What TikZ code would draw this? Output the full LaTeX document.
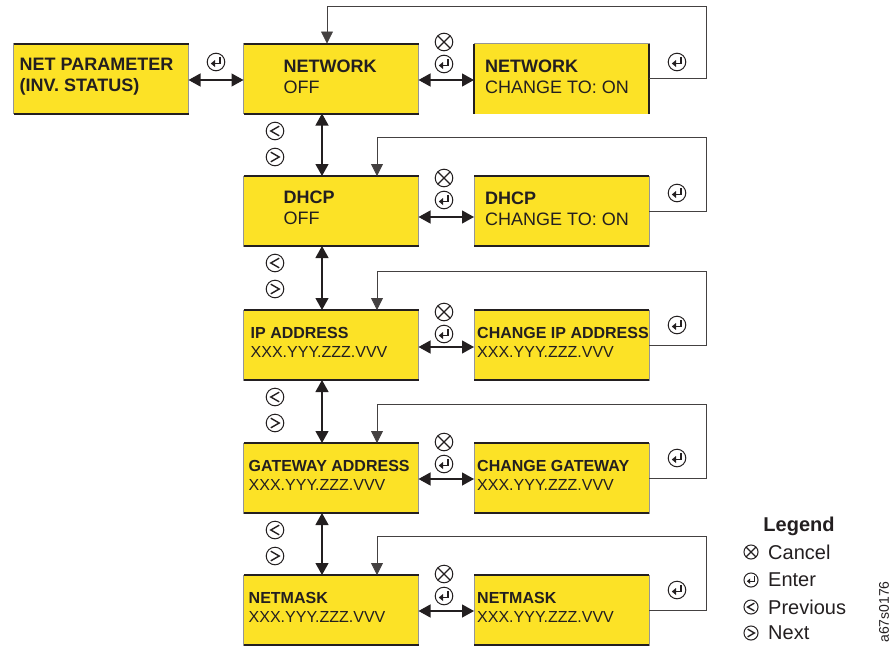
\documentclass[tikz,border=0pt]{standalone}
\usepackage{fontspec}
\setmainfont{Liberation Sans}
\usepackage{tikz}
\usetikzlibrary{calc, positioning, arrows.meta}
\definecolor{panelY}{RGB}{252, 226, 38}
\definecolor{ink}{RGB}{35, 31, 32}
\definecolor{edge}{RGB}{150, 150, 150}

\tikzset{
  cancelkey/.pic={
    \draw[ink, line width=1pt] (0,0) circle (8.8pt);
    \draw[ink, line width=1.1pt] (-6.2,-6.2) -- (6.2,6.2) (-6.2,6.2) -- (6.2,-6.2);
  },
  enterkey/.pic={
    \draw[ink, line width=1pt] (0,0) circle (8.8pt);
    \draw[ink, line width=1.4pt] (4,-5) -- (4,1.5) -- (-1,1.5);
    \fill[ink] (-5.2,1.5) -- (-1,-2) -- (-1,5) -- cycle;
  },
  prevkey/.pic={
    \draw[ink, line width=1pt] (0,0) circle (8.8pt);
    \draw[ink, line width=1.4pt] (4.2,-4.8) -- (-4.2,0) -- (4.2,4.8);
  },
  nextkey/.pic={
    \draw[ink, line width=1pt] (0,0) circle (8.8pt);
    \draw[ink, line width=1.4pt] (-4.2,-4.8) -- (4.2,0) -- (-4.2,4.8);
  },
}

\begin{document}
\begin{tikzpicture}[x=1pt, y=-1pt, font=\fontsize{18}{21}\selectfont, text=ink,
  panel/.style={rectangle, fill=panelY, draw=edge, line width=0.6pt,
    minimum width=175pt, minimum height=70pt, inner sep=0pt, outer sep=0pt},
  paneltext/.style={inner sep=0pt, align=left},
  small/.style={font=\fontsize{16}{19}\selectfont},
  legendtext/.style={font=\fontsize{20}{23}\selectfont, inner sep=0pt},
  dblarrow/.style={{Triangle[length=12pt,width=13pt]}-{Triangle[length=12pt,width=13pt]},
    line width=1.2pt, draw=ink},
  feedback/.style={-{Triangle[length=12pt,width=12pt]}, line width=0.8pt, draw=ink!85}]
  \useasboundingbox (0,0) rectangle (894,646);

  % Panels: start screen, settings column, change column
  \node[panel] (netpar) at (101,78.5) {};
  \foreach \i/\y in {1/78.5, 2/211, 3/345, 4/478, 5/610} {
    \node[panel] (s\i) at (331,\y) {};
    \node[panel] (c\i) at (561.5,\y) {};
  }
  \node[panel, draw=none] at (c1) {};
  \foreach \b in {netpar, s1, s2, s3, s4, s5, c2, c3, c4, c5}
    \draw[ink, line width=2pt] (\b.north west) -- (\b.north east)
      (\b.south west) -- (\b.south east);
  \draw[ink, line width=2pt] (c1.north west) -- (c1.south west)
    (c1.north east) -- (c1.south east);

  % Panel texts
  \node[paneltext, right=6pt of netpar.west, yshift=2pt] (netparT)
    {\textbf{NET PARAMETER}\\\textbf{(INV. STATUS)}};
  \node[paneltext, right=40pt of s1.west, yshift=2pt] (s1T) {\textbf{NETWORK}\\OFF};
  \node[paneltext, right=11pt of c1.west, yshift=2pt] (c1T) {\textbf{NETWORK}\\CHANGE TO: ON};
  \node[paneltext, right=40pt of s2.west, yshift=3pt] (s2T) {\textbf{DHCP}\\OFF};
  \node[paneltext, right=11pt of c2.west, yshift=2pt] (c2T) {\textbf{DHCP}\\CHANGE TO: ON};
  \node[paneltext, small, right=7pt of s3.west, yshift=3pt] (s3T) {\textbf{IP ADDRESS}\\XXX.YYY.ZZZ.VVV};
  \node[paneltext, small, right=3pt of c3.west, yshift=3pt] (c3T) {\textbf{CHANGE IP ADDRESS}\\XXX.YYY.ZZZ.VVV};
  \node[paneltext, small, right=5pt of s4.west, yshift=3pt] (s4T) {\textbf{GATEWAY ADDRESS}\\XXX.YYY.ZZZ.VVV};
  \node[paneltext, small, right=3pt of c4.west, yshift=3pt] (c4T) {\textbf{CHANGE GATEWAY}\\XXX.YYY.ZZZ.VVV};
  \node[paneltext, small, right=5pt of s5.west, yshift=3pt] (s5T) {\textbf{NETMASK}\\XXX.YYY.ZZZ.VVV};
  \node[paneltext, small, right=3pt of c5.west, yshift=3pt] (c5T) {\textbf{NETMASK}\\XXX.YYY.ZZZ.VVV};

  % Connectors
  \draw[dblarrow] ([yshift=-1.5pt]netpar.east) -- ([yshift=-1.5pt]s1.west);
  \foreach \i/\d in {1/-1.5, 2/-6, 3/-2, 4/-1, 5/-1}
    \draw[dblarrow] ([yshift=\d pt]s\i.east) -- ([yshift=\d pt]c\i.west);
  \foreach \i/\j in {1/2, 2/3, 3/4, 4/5}
    \draw[dblarrow] ([xshift=-9pt]s\i.south) -- ([xshift=-9pt]s\j.north);
  \draw[feedback] (c1.east) -- ++(57,0) |- ([xshift=-4pt, yshift=37pt]s1.north)
    -- ([xshift=-4pt]s1.north);
  \foreach \i in {2,...,5}
    \draw[feedback] (c\i.east) -- ++(57,0) |- ([xshift=46pt, yshift=39pt]s\i.north)
      -- ([xshift=46pt]s\i.north);

  % Key symbols
  \pic at (216,62) {enterkey};
  \foreach \y in {42, 178, 312, 442, 574} {
    \pic at (444,\y) {cancelkey};
    \pic at (444,\y+22) {enterkey};
  }
  \foreach \y in {62, 193, 325, 458, 590}
    \pic at (677,\y) {enterkey};
  \foreach \y in {114, 246, 380, 513} {
    \pic at (275,\y+17) {prevkey};
    \pic at (275,\y+43) {nextkey};
  }

  % Legend
  \node[legendtext, font=\fontsize{20}{23}\selectfont\bfseries] (legend) at (799,526) {Legend};
  \pic[scale=0.8] at (751,552) {cancelkey};
  \pic[scale=0.8] at (751,580) {enterkey};
  \pic[scale=0.8] at (751,607) {prevkey};
  \pic[scale=0.8] at (751,633) {nextkey};
  \node[legendtext, anchor=west] (legCancel) at (768,552) {Cancel};
  \node[legendtext, anchor=west] (legEnter) at (768,580) {Enter};
  \node[legendtext, anchor=west] (legPrev) at (768,607) {Previous};
  \node[legendtext, anchor=west] (legNext) at (768,633) {Next};

  \node[rotate=90, font=\fontsize{14}{16}\selectfont, inner sep=0pt] (figid) at (884,612) {a67s0176};
\end{tikzpicture}
\end{document}
